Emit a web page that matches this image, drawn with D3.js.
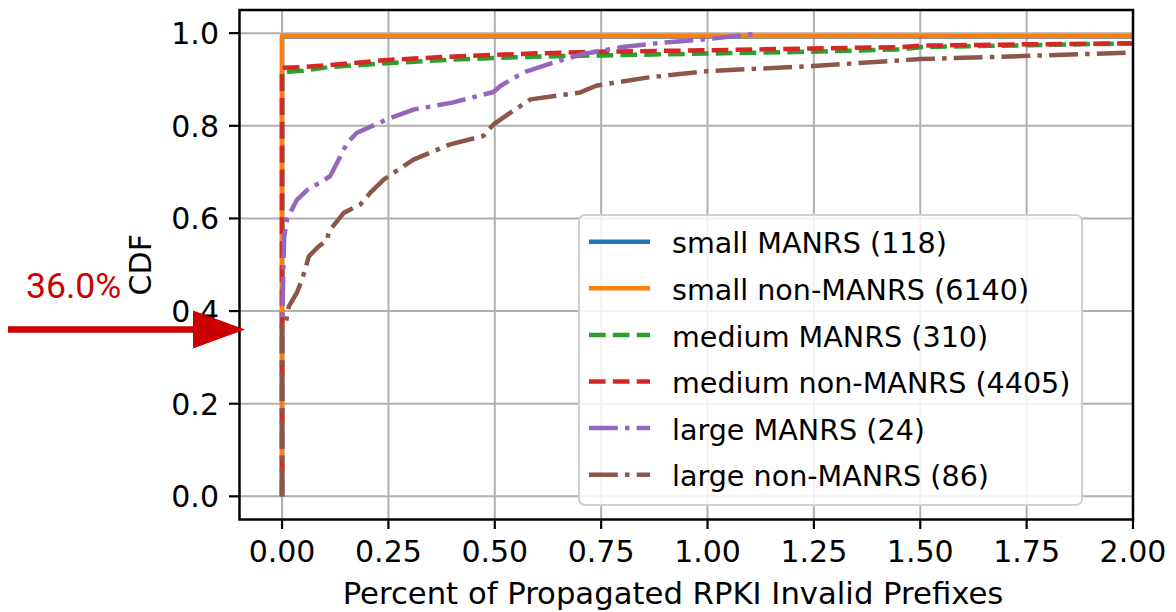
<!DOCTYPE html>
<html>
<head>
<meta charset="utf-8">
<script src="https://cdn.jsdelivr.net/npm/d3@7"></script>
<style>
html,body{margin:0;padding:0;background:#fff;}
svg{display:block;}
text{font-family:"DejaVu Sans",sans-serif;fill:#000;}
</style>
</head>
<body>
<svg id="chart" width="1176" height="612"></svg>
<script>
// ---------- data ----------
const seriesNames = ["small MANRS (118)", "small non-MANRS (6140)", "medium MANRS (310)",
                     "medium non-MANRS (4405)", "large MANRS (24)", "large non-MANRS (86)"];
const seriesColors = ["#1f77b4", "#ff7f0e", "#2ca02c", "#d62728", "#9467bd", "#8c564b"];
const seriesStyles = ["solid", "solid", "dashed", "dashed", "dashdot", "dashdot"];

const smallManrsX = [0, 0, 2.1];
const smallManrsY = [0, 0.993, 0.993];
const smallNonManrsX = [0, 0, 2.1];
const smallNonManrsY = [0, 0.994, 0.994];
const mediumManrsX = [0, 0, 0.05, 0.113, 0.247, 0.4, 0.584, 0.748, 0.999, 1.249, 1.453, 1.504, 1.755, 2.0, 2.1];
const mediumManrsY = [0, 0.916, 0.919, 0.927, 0.935, 0.943, 0.949, 0.952, 0.956, 0.96, 0.965, 0.97, 0.974, 0.978, 0.979];
const mediumNonManrsX = [0, 0, 0.05, 0.113, 0.247, 0.388, 0.584, 0.748, 0.999, 1.249, 1.453, 1.504, 1.755, 2.0, 2.1];
const mediumNonManrsY = [0, 0.925, 0.927, 0.931, 0.942, 0.949, 0.956, 0.96, 0.963, 0.967, 0.97, 0.973, 0.976, 0.978, 0.979];
const largeManrsX = [0, 0, 0.005, 0.012, 0.035, 0.06, 0.097, 0.113, 0.153, 0.176, 0.247, 0.309, 0.4, 0.497, 0.513, 0.567, 0.584, 0.65, 0.708, 0.8, 0.9, 0.999, 1.107];
const largeManrsY = [0, 0.37, 0.56, 0.6, 0.64, 0.662, 0.682, 0.691, 0.763, 0.785, 0.814, 0.835, 0.85, 0.873, 0.886, 0.915, 0.92, 0.94, 0.955, 0.97, 0.98, 0.987, 0.998];
const largeNonManrsX = [0, 0, 0.008, 0.016, 0.035, 0.047, 0.063, 0.082, 0.106, 0.11, 0.145, 0.184, 0.207, 0.239, 0.309, 0.348, 0.395, 0.473, 0.497, 0.536, 0.584, 0.701, 0.74, 0.858, 0.999, 1.249, 1.5, 1.755, 2.0, 2.1];
const largeNonManrsY = [0, 0.37, 0.37, 0.41, 0.44, 0.468, 0.518, 0.536, 0.554, 0.572, 0.612, 0.63, 0.655, 0.684, 0.727, 0.742, 0.76, 0.778, 0.803, 0.828, 0.857, 0.872, 0.887, 0.904, 0.918, 0.929, 0.944, 0.951, 0.958, 0.959];

const xTicks = [0, 0.25, 0.5, 0.75, 1.0, 1.25, 1.5, 1.75, 2.0];
const yTicks = [0, 0.2, 0.4, 0.6, 0.8, 1.0];
const xLabel = "Percent of Propagated RPKI Invalid Prefixes";
const yLabel = "CDF";
const annotationValue = [0.36];
const annotationText = ["36.0%"];

// ---------- layout ----------
const svg = d3.select("#chart");
const pL = 239.5, pR = 1133, pT = 10, pB = 519.5;
const x = d3.scaleLinear().domain([-0.1, 2.0]).range([pL, pR]);
const y = d3.scaleLinear().domain([-0.05, 1.05]).range([pB, pT]);

svg.append("defs").append("clipPath").attr("id", "clip")
  .append("rect").attr("x", pL).attr("y", pT).attr("width", pR - pL).attr("height", pB - pT);

// grid
const grid = svg.append("g");
grid.selectAll(".gx").data(xTicks).enter().append("line")
  .attr("x1", d => x(d)).attr("x2", d => x(d)).attr("y1", pT).attr("y2", pB)
  .attr("stroke", "#b0b0b0").attr("stroke-width", 2);
grid.selectAll(".gy").data(yTicks).enter().append("line")
  .attr("y1", d => y(d)).attr("y2", d => y(d)).attr("x1", pL).attr("x2", pR)
  .attr("stroke", "#b0b0b0").attr("stroke-width", 2);

// series
const lw = 4.5;
const dashFor = s => s === "dashed" ? [3.7 * lw, 1.6 * lw].join(",")
                  : s === "dashdot" ? [6.4 * lw, 1.6 * lw, 1 * lw, 1.6 * lw].join(",") : null;
const seriesX = [smallManrsX, smallNonManrsX, mediumManrsX, mediumNonManrsX, largeManrsX, largeNonManrsX];
const seriesY = [smallManrsY, smallNonManrsY, mediumManrsY, mediumNonManrsY, largeManrsY, largeNonManrsY];
const line = d3.line().x(d => x(d[0])).y(d => y(d[1]));
const gLines = svg.append("g").attr("clip-path", "url(#clip)");
seriesNames.forEach((name, i) => {
  const pts = seriesX[i].map((v, j) => [v, seriesY[i][j]]);
  gLines.append("path").datum(pts).attr("d", line)
    .attr("fill", "none").attr("stroke", seriesColors[i]).attr("stroke-width", lw)
    .attr("stroke-dasharray", dashFor(seriesStyles[i]))
    .attr("stroke-linejoin", "round");
});

// axes
const fsTick = 30;
const fsLabel = 30.7;
const fsLegend = 28.6;
const xAxis = svg.append("g");
xAxis.selectAll("line").data(xTicks).enter().append("line")
  .attr("x1", d => x(d)).attr("x2", d => x(d)).attr("y1", pB).attr("y2", pB + 9.5)
  .attr("stroke", "#000").attr("stroke-width", 2.2);
xAxis.selectAll("text").data(xTicks).enter().append("text")
  .attr("x", d => x(d)).attr("y", 561.5).attr("text-anchor", "middle")
  .style("font-size", fsTick + "px").text(d => d3.format(".2f")(d));
const yAxis = svg.append("g");
yAxis.selectAll("line").data(yTicks).enter().append("line")
  .attr("y1", d => y(d)).attr("y2", d => y(d)).attr("x1", pL - 10.5).attr("x2", pL)
  .attr("stroke", "#000").attr("stroke-width", 2.2);
yAxis.selectAll("text").data(yTicks).enter().append("text")
  .attr("x", 219).attr("y", d => y(d) + 10.8).attr("text-anchor", "end")
  .style("font-size", fsTick + "px").text(d => d3.format(".1f")(d));

svg.append("text").attr("x", 673).attr("y", 603.5).attr("text-anchor", "middle")
  .style("font-size", fsLabel + "px").text(xLabel);
svg.append("text").attr("transform", `translate(151,${(pT + pB) / 2}) rotate(-90)`)
  .attr("text-anchor", "middle").style("font-size", fsTick + "px").text(yLabel);

// spines
svg.append("rect").attr("x", pL).attr("y", pT).attr("width", pR - pL).attr("height", pB - pT)
  .attr("fill", "none").attr("stroke", "#000").attr("stroke-width", 2.5);

// legend
const lg = svg.append("g");
lg.append("rect").attr("x", 579).attr("y", 215).attr("width", 503).attr("height", 290).attr("rx", 6)
  .attr("fill", "#fff").attr("fill-opacity", 0.85).attr("stroke", "#d0d0d0").attr("stroke-width", 2);
seriesNames.forEach((name, i) => {
  const cy = 241.7 + i * 46.6;
  lg.append("line").attr("x1", 589).attr("x2", 650).attr("y1", cy).attr("y2", cy)
    .attr("stroke", seriesColors[i]).attr("stroke-width", lw)
    .attr("stroke-dasharray", dashFor(seriesStyles[i]));
  lg.append("text").attr("x", 672).attr("y", cy + 11.6).style("font-size", fsLegend + "px").text(name);
});

// annotation arrow
const ay = y(annotationValue[0]);
const ann = svg.append("g");
ann.append("line").attr("x1", 8).attr("x2", 196).attr("y1", ay).attr("y2", ay)
  .attr("stroke", "#cc0000").attr("stroke-width", 6.5);
ann.append("path").attr("d", `M193,${ay - 19}L245,${ay}L193,${ay + 19}Z`).attr("fill", "#cc0000");
ann.append("text").attr("x", 26).attr("y", 298).style("font-family", "Roboto, sans-serif")
  .style("font-size", "35.5px").style("fill", "#cc0000").text(annotationText[0]);
</script>
</body>
</html>
